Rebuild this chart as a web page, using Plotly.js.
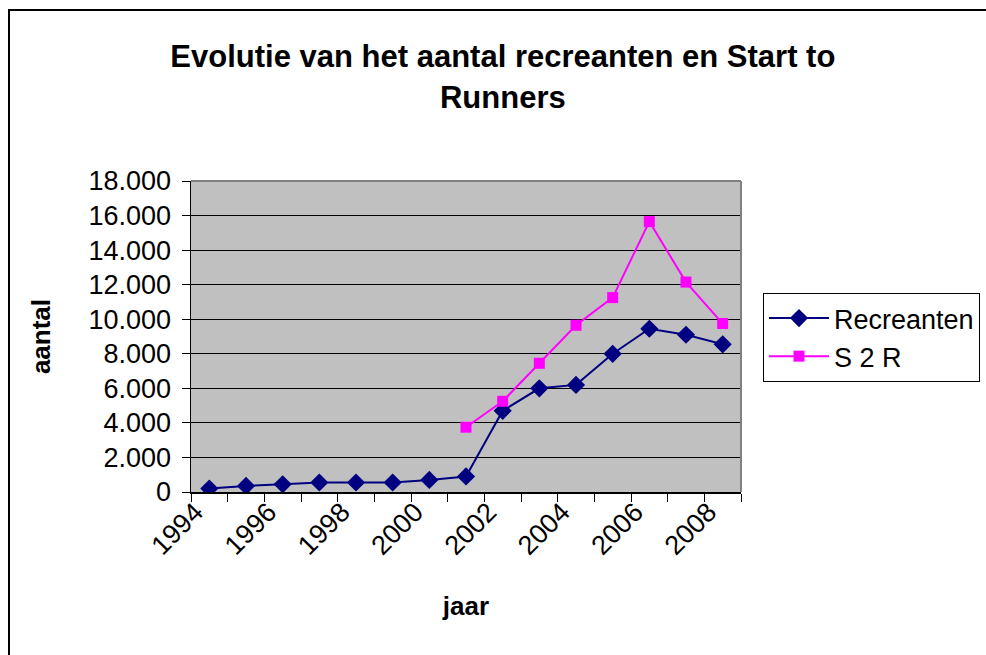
<!DOCTYPE html>
<html>
<head>
<meta charset="utf-8">
<script src="https://cdn.plot.ly/plotly-3.0.1.min.js"></script>
<style>
html,body{margin:0;padding:0;background:#fff;}
#wrap{position:relative;width:986px;height:655px;overflow:hidden;}
#chart{position:absolute;left:0;top:0;width:986px;height:655px;}
#frame{position:absolute;left:8px;top:9px;width:990px;height:660px;border-left:2px solid #000;border-top:2px solid #000;pointer-events:none;}
</style>
</head>
<body>
<div id="wrap"><div id="chart"></div><div id="frame"></div></div>
<script>
const years = [1994,1995,1996,1997,1998,1999,2000,2001,2002,2003,2004,2005,2006,2007,2008];
const recreanten = [200,350,450,550,550,550,700,900,4700,6000,6200,8000,9450,9100,8550];
const s2r = [null,null,null,null,null,null,null,3750,5250,7450,9650,11250,15650,12150,9750];
const yearLabels = [1994,1996,1998,2000,2002,2004,2006,2008];
const titleText = 'Evolutie van het aantal recreanten en Start to<br>Runners';

const F = 'Liberation Sans, Arial, sans-serif';

const traces = [
  {x: years, y: recreanten, name: 'Recreanten', type: 'scatter', mode: 'lines+markers',
   line: {color: '#000080', width: 2}, marker: {symbol: 'diamond', size: 14, color: '#000080'}},
  {x: years, y: s2r, name: 'S 2 R', type: 'scatter', mode: 'lines+markers',
   line: {color: '#FF00FF', width: 2}, marker: {symbol: 'square', size: 11, color: '#FF00FF'}}
];

const layout = {
  width: 986, height: 655,
  margin: {l: 191, r: 245, t: 181, b: 163, autoexpand: false},
  paper_bgcolor: 'rgba(0,0,0,0)',
  plot_bgcolor: '#C0C0C0',
  separators: ',.',
  font: {family: F, color: '#000', size: 27},
  showlegend: true,
  title: {text: titleText, font: {family: F, size: 31, color: '#000', weight: 'bold'},
          x: 0.51, xanchor: 'center', y: 0.897, yanchor: 'middle'},
  xaxis: {
    range: [1993.5, 2008.5], tickmode: 'array', tickvals: yearLabels, automargin: false,
    ticktext: yearLabels.map(String), ticks: '', tickangle: -45,
    ticklabelshift: -14, ticklabelstandoff: -8,
    tickfont: {family: F, size: 27, color: '#000'},
    showline: true, linecolor: '#000', linewidth: 1.5, showgrid: false, zeroline: false,
    minor: {tickmode: 'linear', tick0: 1993.5, dtick: 1, ticks: 'outside', ticklen: 8, tickcolor: '#000', tickwidth: 1, showgrid: false},
    title: {text: 'jaar', font: {family: F, size: 26, color: '#000', weight: 'bold'}, standoff: 37}
  },
  yaxis: {
    range: [0, 18000], tickmode: 'linear', tick0: 0, dtick: 2000, tickformat: ',d', automargin: false,
    ticks: 'outside', ticklen: 8, tickcolor: '#000', tickwidth: 1, ticklabelstandoff: 5,
    tickfont: {family: F, size: 27, color: '#000'},
    showline: true, linecolor: '#000', linewidth: 1.5,
    showgrid: true, gridcolor: '#000', gridwidth: 1, zeroline: false,
    title: {text: 'aantal', font: {family: F, size: 26, color: '#000', weight: 'bold'}, standoff: 30}
  },
  legend: {xref: 'container', yref: 'container', x: 763/986, xanchor: 'left', y: 1 - 293/655, yanchor: 'top',
           bgcolor: '#fff', bordercolor: '#000', borderwidth: 1, itemwidth: 60,
           font: {family: F, size: 27, color: '#000'}, tracegroupgap: 0},
  shapes: [
    {type: 'line', xref: 'paper', yref: 'paper', x0: 0, x1: 1, y0: 1, y1: 1, line: {color: '#808080', width: 2}, layer: 'above'},
    {type: 'line', xref: 'paper', yref: 'paper', x0: 1, x1: 1, y0: 0, y1: 1, line: {color: '#808080', width: 2}, layer: 'above'}
  ]
};

Plotly.newPlot('chart', traces, layout, {displayModeBar: false, staticPlot: true});
</script>
</body>
</html>
